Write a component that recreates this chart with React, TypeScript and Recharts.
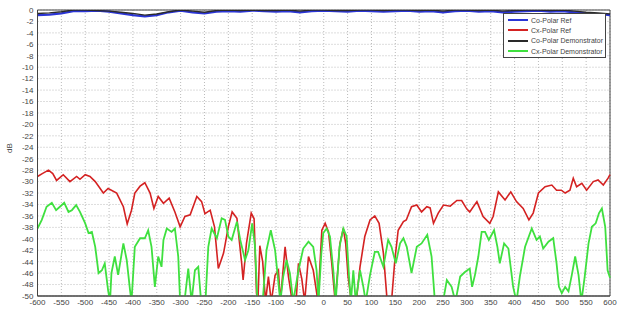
import { LineChart, Line, XAxis, YAxis, CartesianGrid, Legend, ReferenceArea } from 'recharts';

const thetaTicks = [-600, -550, -500, -450, -400, -350, -300, -250, -200, -150, -100, -50, 0, 50, 100, 150, 200, 250, 300, 350, 400, 450, 500, 550, 600];
const dbTicks = [0, -2, -4, -6, -8, -10, -12, -14, -16, -18, -20, -22, -24, -26, -28, -30, -32, -34, -36, -38, -40, -42, -44, -46, -48, -50];

const legendNames = ['Co-Polar Ref', 'Cx-Polar Ref', 'Co-Polar Demonstrator', 'Cx-Polar Demonstrator'];
const legendColors = ['#2b35d6', '#d42222', '#2a2a2a', '#3fe03f'];

// co-polar traces (both hug 0 dB)
const coTheta = [-600, -575, -550, -525, -500, -475, -450, -425, -400, -375, -350, -325, -300, -275, -250, -225, -200, -175, -150, -125, -100, -75, -50, -25, 0, 25, 50, 75, 100, 125, 150, 175, 200, 225, 250, 275, 300, 325, 350, 375, 400, 425, 450, 475, 500, 525, 550, 575, 600];
const coRefDb = [-0.9, -0.8, -0.6, -0.2, -0.2, -0.1, -0.3, -0.6, -0.9, -1.1, -0.9, -0.4, -0.1, -0.4, -0.6, -0.3, -0.2, -0.3, -0.1, -0.2, -0.3, -0.2, -0.4, -0.2, -0.1, -0.2, -0.3, -0.1, -0.2, -0.3, -0.2, -0.1, -0.3, -0.2, -0.4, -0.2, -0.1, -0.3, -0.2, -0.4, -0.3, -0.2, -0.1, -0.3, -0.2, -0.4, -0.6, -0.7, -0.9];
const coDemoDb = [-0.6, -0.5, -0.3, 0, 0, -0.1, -0.2, -0.4, -0.6, -0.9, -0.7, -0.3, 0, -0.2, -0.4, -0.1, 0, -0.1, 0, -0.1, -0.1, 0, -0.2, 0, 0, -0.1, -0.1, 0, 0, -0.1, 0, 0, -0.1, 0, -0.2, 0, 0, -0.1, 0, -0.2, -0.1, 0, 0, -0.1, 0, -0.2, -0.4, -0.5, -0.7];

// cross-polar reference (red)
const cxRefTheta = [-600, -590, -577, -568, -560, -546, -532, -518, -511, -500, -490, -479, -462, -452, -434, -420, -412, -403, -396, -385, -375, -364, -356, -347, -336, -324, -312, -301, -291, -280, -266, -256, -249, -238, -229, -221, -210, -200, -192, -182, -172, -169, -162, -152, -146, -141, -138, -134, -128, -122, -116, -110, -102, -95, -91, -81, -74, -66, -58, -53, -46, -40, -32, -22, -12, -4, 3, 10, 17, 24, 34, 41, 46, 51, 58, 68, 76, 86, 97, 107, 116, 125, 133, 142, 149, 156, 167, 173, 184, 195, 205, 216, 223, 230, 240, 251, 265, 279, 289, 300, 306, 321, 334, 348, 355, 366, 380, 392, 404, 418, 430, 439, 450, 464, 478, 488, 498, 506, 516, 523, 530, 541, 551, 565, 575, 586, 596, 600];
const cxRefDb = [-29.1, -28.6, -28.0, -28.6, -29.8, -28.8, -30.0, -29.1, -29.6, -28.8, -29.1, -30.0, -32.0, -31.2, -32.0, -34.4, -37.4, -35.0, -32.0, -30.8, -30.2, -32.0, -34.7, -32.6, -33.8, -32.9, -35.3, -37.9, -36.1, -35.8, -32.6, -33.5, -35.6, -35.0, -37.9, -45.2, -42.5, -37.9, -35.3, -36.4, -44.3, -47.2, -40.8, -35.5, -36.5, -49.5, -51, -41.2, -44, -51, -46.6, -51, -46.4, -45.5, -51, -41.4, -46.6, -51, -51, -44.3, -47, -51, -43.1, -45.5, -51, -38.5, -37.3, -38.8, -44.5, -51, -40.8, -38.2, -40.8, -46.6, -51, -51, -44.9, -39.6, -36.7, -36.0, -37.3, -42.5, -51, -51, -43.7, -38.5, -37.0, -36.7, -34.4, -34.1, -35.3, -34.4, -34.6, -37.3, -35.5, -34.1, -34.3, -33.3, -33.3, -34.8, -35.3, -33.5, -36.1, -37.3, -36.1, -31.8, -33.2, -31.8, -33.5, -34.7, -36.7, -35.5, -32.0, -30.9, -30.6, -31.5, -31.5, -32.0, -31.5, -29.4, -30.9, -30.3, -31.5, -30.0, -29.7, -30.6, -29.4, -28.8];

// cross-polar demonstrator (green)
const cxDemoTheta = [-600, -591, -581, -570, -561, -553, -544, -535, -528, -519, -511, -500, -493, -486, -479, -472, -465, -459, -452, -448, -445, -438, -431, -420, -413, -406, -403, -396, -385, -375, -368, -361, -354, -347, -340, -336, -329, -319, -312, -305, -301, -292, -284, -277, -270, -263, -257, -248, -242, -235, -224, -214, -207, -200, -193, -182, -175, -165, -158, -150, -144, -139, -128, -120, -111, -102, -91, -85, -78, -71, -64, -53, -43, -32, -22, -15, -11, -5, -1, 6, 13, 20, 25, 33, 41, 48, 53, 57, 62, 67, 76, 83, 88, 97, 107, 114, 125, 135, 142, 151, 160, 167, 174, 184, 195, 205, 217, 226, 233, 250, 258, 268, 276, 286, 296, 306, 311, 317, 324, 331, 338, 346, 357, 364, 369, 378, 387, 397, 404, 411, 422, 436, 446, 453, 460, 471, 481, 488, 493, 499, 506, 513, 520, 527, 534, 540, 547, 555, 562, 570, 577, 583, 590, 595, 600];
const cxDemoDb = [-38.2, -36.7, -34.4, -33.7, -35.0, -34.4, -33.7, -35.3, -35.0, -34.1, -35.3, -37.3, -39.0, -38.8, -41.4, -46.0, -45.5, -44.3, -49.0, -51, -46.0, -43.1, -46.3, -40.8, -43.7, -49.0, -51, -41.4, -39.9, -39.9, -38.5, -41.4, -48.4, -43.1, -44.9, -40.2, -38.2, -38.8, -38.2, -43.1, -51, -51, -45.2, -51, -45.5, -44.9, -51, -51, -41.4, -38.2, -39.9, -36.4, -36.7, -39.6, -40.2, -37.0, -40.2, -43.7, -42.0, -37.3, -41.4, -51, -51, -42.0, -38.5, -42.0, -51, -46.6, -43.7, -46.0, -51, -45.5, -41.7, -40.5, -41.4, -45.5, -51, -42.5, -39.0, -38.2, -39.6, -45.5, -51, -41.4, -38.2, -39.6, -46.6, -51, -45.5, -51, -45.5, -48.4, -51, -46.3, -42.3, -42.3, -44.9, -40.2, -41.4, -44.3, -40.8, -39.9, -41.4, -46.0, -41.4, -40.8, -39.3, -43.1, -51, -51, -47.2, -48.4, -51, -46.6, -45.8, -45.2, -48.4, -46.3, -43.1, -38.8, -38.8, -40.2, -38.5, -41.4, -44.3, -40.8, -41.7, -48.4, -51, -46.6, -41.4, -38.2, -40.2, -39.6, -41.7, -40.5, -39.9, -44.3, -48.4, -49.5, -48.4, -49.2, -46.3, -43.1, -46.3, -51, -46.6, -40.8, -37.9, -37.3, -35.5, -34.7, -37.9, -45.5, -46.8];

const toPoints = (theta: number[], db: number[]) => theta.map((t, i) => ({ theta: t, db: db[i] }));

const coRef = toPoints(coTheta, coRefDb);
const coDemo = toPoints(coTheta, coDemoDb);
const cxRef = toPoints(cxRefTheta, cxRefDb);
const cxDemo = toPoints(cxDemoTheta, cxDemoDb);

const tickStyle = { fontSize: 8, fill: '#444', fontFamily: 'Liberation Sans, Arial, sans-serif' };

const renderLegend = () => (
  <div
    style={{
      background: '#fff',
      border: '1px solid #444',
      padding: '1px 2px 1px 4px',
      width: 103,
      boxSizing: 'border-box',
      fontFamily: 'Liberation Sans, Arial, sans-serif',
    }}
  >
    {legendNames.map((name, i) => (
      <div key={name} style={{ display: 'flex', alignItems: 'center', height: 10.3, fontSize: 7, color: '#444', whiteSpace: 'nowrap' }}>
        <span style={{ display: 'inline-block', flexShrink: 0, width: 20, height: 2, background: legendColors[i], marginRight: 3 }} />
        {name}
      </div>
    ))}
  </div>
);

export default function App() {
  return (
    <div style={{ position: 'absolute', left: 0, top: 0, width: 628, height: 310, background: '#fff' }}>
      <LineChart width={628} height={310} margin={{ top: 10, right: 18, bottom: 0, left: 7 }}>
        <CartesianGrid stroke="#bbb" strokeDasharray="1 2" />
        <XAxis
          dataKey="theta"
          type="number"
          domain={[-600, 600]}
          ticks={thetaTicks}
          interval={0}
          height={14}
          tick={tickStyle}
          tickLine={false}
          tickSize={0}
          tickMargin={3}
          axisLine={{ stroke: '#444' }}
          allowDuplicatedCategory={false}
        />
        <YAxis
          type="number"
          domain={[-50, 0]}
          ticks={dbTicks}
          interval={0}
          width={30.5}
          allowDataOverflow
          tick={tickStyle}
          tickLine={false}
          tickSize={0}
          tickMargin={4}
          axisLine={{ stroke: '#444' }}
          label={{ value: 'dB', angle: -90, position: 'insideLeft', offset: 2, style: tickStyle }}
        />
        <ReferenceArea x1={-600} x2={600} y1={-50} y2={0} fill="none" stroke="#444" strokeWidth={1} />
        <Line data={cxRef} dataKey="db" name={legendNames[1]} stroke={legendColors[1]} strokeWidth={1.6} dot={false} isAnimationActive={false} />
        <Line data={cxDemo} dataKey="db" name={legendNames[3]} stroke={legendColors[3]} strokeWidth={1.8} dot={false} isAnimationActive={false} />
        <Line data={coRef} dataKey="db" name={legendNames[0]} stroke={legendColors[0]} strokeWidth={2.2} dot={false} isAnimationActive={false} />
        <Line data={coDemo} dataKey="db" name={legendNames[2]} stroke={legendColors[2]} strokeWidth={1.4} dot={false} isAnimationActive={false} />
        <Legend
          layout="vertical"
          align="center"
          verticalAlign="middle"
          content={renderLegend}
          wrapperStyle={{ left: 503, top: 13, width: 103 }}
        />
      </LineChart>
    </div>
  );
}
